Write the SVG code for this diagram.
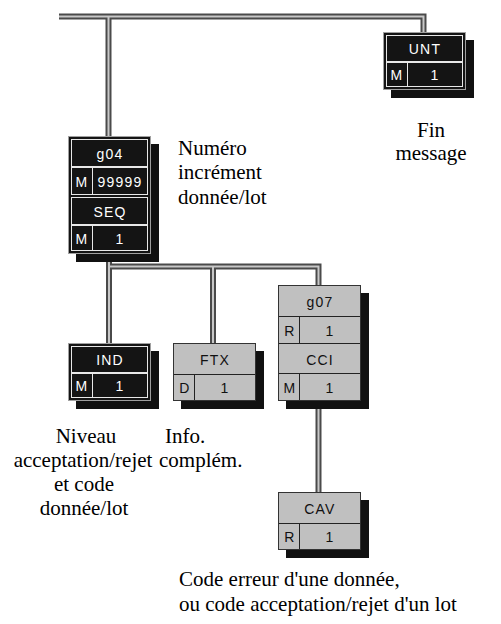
<svg xmlns="http://www.w3.org/2000/svg" width="501" height="624" viewBox="0 0 501 624">
<style>
.bg{fill:#fff}
.sh{fill:#111}
.bo{fill:#141414;stroke:#a0a0a0;stroke-width:1}
.bc{fill:#141414;stroke:#e8e8e8;stroke-width:1}
.go{fill:#c0c0c0;stroke:#333;stroke-width:1}
.gl{fill:none;stroke:#222;stroke-width:1}
.wt{fill:#fff;font-family:"Liberation Sans",Arial,sans-serif;font-size:14px;letter-spacing:1.2px;text-anchor:middle}
.kt{fill:#111;font-family:"Liberation Sans",Arial,sans-serif;font-size:14px;letter-spacing:1.2px;text-anchor:middle}
.lb{fill:#000;font-family:"Liberation Serif","Times New Roman",serif;font-size:21px}
.c{text-anchor:middle}
.wo{fill:none;stroke:#4a4a4a;stroke-width:6}
.wi{fill:none;stroke:#c8c8c8;stroke-width:2}
</style>
<rect class="bg" x="0" y="0" width="501" height="624"/>
<g id="connectors">
<path class="wo" d="M59,16.5 H423.5 V33 M108.5,16.5 V136 M109,255 V343 M109,266.5 H318.5 V285 M213,266.5 V343 M318.5,401 V492"/>
<path class="wi" d="M59,16.5 H423.5 V33 M108.5,16.5 V136 M109,255 V343 M109,266.5 H318.5 V285 M213,266.5 V343 M318.5,401 V492"/>
</g>
<g id="UNT">
<rect class="sh" x="391" y="40" width="83" height="58"/>
<rect class="bo" x="383.5" y="32.5" width="82" height="57"/>
<rect class="bc" x="386.5" y="35.5" width="76" height="26"/>
<rect class="bc" x="386.5" y="62.5" width="21" height="24"/>
<rect class="bc" x="407.5" y="62.5" width="55" height="24"/>
<text class="wt" x="425" y="54">UNT</text>
<text class="wt" x="397" y="80">M</text>
<text class="wt" x="435" y="80">1</text>
</g>
<g id="g04">
<rect class="sh" x="76" y="144" width="83" height="118"/>
<rect class="bo" x="68.5" y="136.5" width="82" height="117"/>
<rect class="bc" x="71.5" y="139.5" width="76" height="27"/>
<rect class="bc" x="71.5" y="167.5" width="21" height="27"/>
<rect class="bc" x="92.5" y="167.5" width="55" height="27"/>
<rect class="bc" x="71.5" y="197.5" width="76" height="27"/>
<rect class="bc" x="71.5" y="225.5" width="21" height="25"/>
<rect class="bc" x="92.5" y="225.5" width="55" height="25"/>
<text class="wt" x="110" y="159">g04</text>
<text class="wt" x="82" y="187">M</text>
<text class="wt" x="120" y="187">99999</text>
<text class="wt" x="110" y="217">SEQ</text>
<text class="wt" x="82" y="244">M</text>
<text class="wt" x="120" y="244">1</text>
</g>
<g id="IND">
<rect class="sh" x="76" y="351" width="83" height="58"/>
<rect class="bo" x="68.5" y="343.5" width="82" height="57"/>
<rect class="bc" x="71.5" y="346.5" width="76" height="26"/>
<rect class="bc" x="71.5" y="373.5" width="21" height="24"/>
<rect class="bc" x="92.5" y="373.5" width="55" height="24"/>
<text class="wt" x="110" y="365">IND</text>
<text class="wt" x="82" y="391">M</text>
<text class="wt" x="120" y="391">1</text>
</g>
<g id="FTX">
<rect class="sh" x="181" y="351" width="83" height="58"/>
<rect class="go" x="173.5" y="343.5" width="82" height="57"/>
<path class="gl" d="M174,374.5 H255 M194.5,374.5 V400"/>
<text class="kt" x="215" y="365">FTX</text>
<text class="kt" x="185" y="393">D</text>
<text class="kt" x="225" y="393">1</text>
</g>
<g id="g07">
<rect class="sh" x="286" y="293" width="83" height="116"/>
<rect class="go" x="278.5" y="285.5" width="82" height="115"/>
<path class="gl" d="M279,316.5 H360 M279,343.5 H360 M279,373.5 H360 M299.5,316.5 V343.5 M299.5,373.5 V400"/>
<text class="kt" x="320" y="307">g07</text>
<text class="kt" x="290" y="336">R</text>
<text class="kt" x="330" y="336">1</text>
<text class="kt" x="320" y="365">CCI</text>
<text class="kt" x="290" y="393">M</text>
<text class="kt" x="330" y="393">1</text>
</g>
<g id="CAV">
<rect class="sh" x="286" y="500" width="83" height="58"/>
<rect class="go" x="278.5" y="492.5" width="82" height="57"/>
<path class="gl" d="M279,523.5 H360 M299.5,523.5 V549"/>
<text class="kt" x="320" y="514">CAV</text>
<text class="kt" x="290" y="542">R</text>
<text class="kt" x="330" y="542">1</text>
</g>
<g id="labels">
<text class="lb" x="178" y="155">Numéro</text>
<text class="lb" x="178" y="179">incrément</text>
<text class="lb" x="178" y="204">donnée/lot</text>
<text class="lb c" x="431" y="137">Fin</text>
<text class="lb c" x="431" y="160">message</text>
<text class="lb c" x="86" y="443">Niveau</text>
<text class="lb c" x="83" y="467">acceptation/rejet</text>
<text class="lb c" x="84" y="491">et code</text>
<text class="lb c" x="84" y="515">donnée/lot</text>
<text class="lb" x="165" y="443">Info.</text>
<text class="lb" x="159" y="467">complém.</text>
<text class="lb" x="179" y="586">Code erreur d'une donnée,</text>
<text class="lb" x="179" y="611">ou code acceptation/rejet d'un lot</text>
</g>
</svg>
